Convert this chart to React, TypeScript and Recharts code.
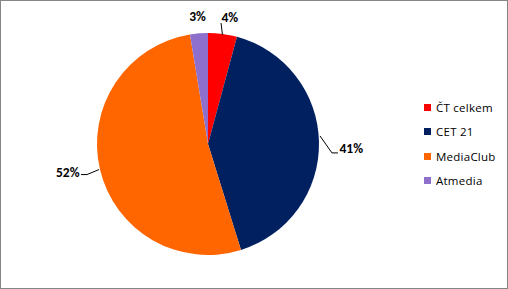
import React from 'react';
import { PieChart, Pie, Cell, Legend } from 'recharts';

const categories = ['ČT celkem', 'CET 21', 'MediaClub', 'Atmedia'];
const shares = [4.2, 41.0, 52.2, 2.6];
const colors = ['#FF0000', '#002060', '#FF6600', '#8E6FCB'];

const data = categories.map((name, i) => ({ name, value: shares[i] }));

const RAD = Math.PI / 180;
const labelFont = 'Carlito, Calibri, Lato, "Open Sans", sans-serif';

const renderLabel = (props: any) => {
  const { cx, cy, midAngle, outerRadius, percent } = props;
  const c = Math.cos(-midAngle * RAD);
  const s = Math.sin(-midAngle * RAD);
  const text = `${Math.round(percent * 100)}%`;
  const side = Math.abs(c) > 0.7;
  if (side) {
    const dir = c > 0 ? 1 : -1;
    const ex = cx + outerRadius * c;
    const ey = cy + outerRadius * s;
    const x1 = ex + dir;
    const y1 = ey - (dir > 0 ? 6 : 0);
    const x2 = ex + dir * 13;
    const y2 = ey + (dir > 0 ? 11 : 5);
    const x3 = x2 + dir * 6;
    return (
      <g>
        <polyline points={`${x1},${y1} ${x2},${y2} ${x3},${y2}`} fill="none" stroke="#000" strokeWidth={1} />
        <text x={x3 + dir * 1.5} y={y2 - (dir > 0 ? 4.5 : 2.5)} textAnchor={dir > 0 ? 'start' : 'end'} dominantBaseline="central" fontFamily={labelFont} fontSize={13.5} fontWeight="bold" fill="#000">
          {text}
        </text>
      </g>
    );
  }
  const lx = cx + (outerRadius + 17) * c;
  const ly = cy + (outerRadius + 17) * s;
  const showLine = percent > 0.035;
  return (
    <g>
      {showLine && (
        <line x1={cx + (outerRadius - 1) * c} y1={cy + (outerRadius - 1) * s} x2={cx + (outerRadius + 11) * c - 3} y2={cy + (outerRadius + 11) * s} stroke="#000" strokeWidth={1} />
      )}
      <text x={showLine ? lx + 5 : lx} y={ly} textAnchor="middle" dominantBaseline="central" fontFamily={labelFont} fontSize={13.5} fontWeight="bold" fill="#000">
        {text}
      </text>
    </g>
  );
};

const renderLegend = () => (
  <div style={{ fontFamily: '"Open Sans", Lato, sans-serif', fontSize: 11.5, color: '#000' }}>
    {categories.map((name, i) => (
      <div key={name} style={{ display: 'flex', alignItems: 'center', height: 24.5 }}>
        <span style={{ display: 'inline-block', width: 7, height: 7, background: colors[i], marginRight: 5 }} />
        <span style={{ letterSpacing: 0.25 }}>{name}</span>
      </div>
    ))}
  </div>
);

export default function App() {
  return (
    <div
      style={{
        position: 'absolute',
        left: 0,
        top: 0,
        width: 508,
        height: 289,
        border: '1px solid #868686',
        boxSizing: 'border-box',
        background: '#fff',
      }}
    >
      <PieChart width={506} height={287} margin={{ top: 0, right: 0, bottom: 0, left: 0 }}>
        <Pie
          data={data}
          dataKey="value"
          nameKey="name"
          cx={207}
          cy={143}
          outerRadius={111}
          startAngle={90}
          endAngle={-270}
          stroke="none"
          label={renderLabel}
          labelLine={false}
          isAnimationActive={false}
        >
          {data.map((d, i) => (
            <Cell key={d.name} fill={colors[i]} />
          ))}
        </Pie>
        <Legend
          content={renderLegend}
          layout="vertical"
          wrapperStyle={{ position: 'absolute', left: 423, top: 94, width: 84 }}
        />
      </PieChart>
    </div>
  );
}
